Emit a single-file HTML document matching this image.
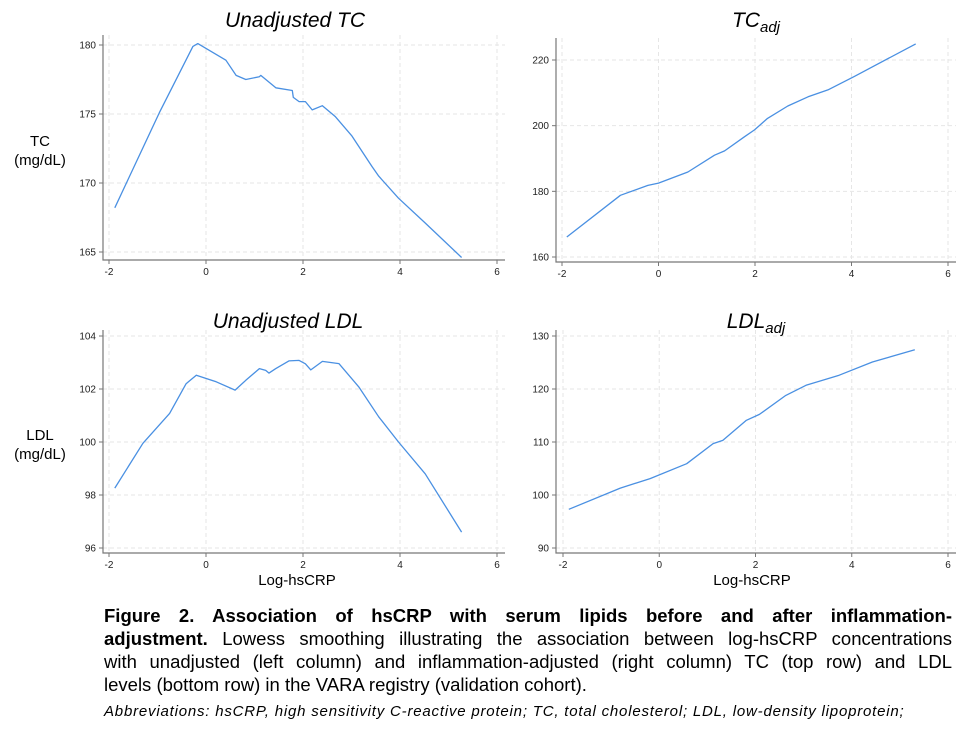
<!DOCTYPE html>
<html><head><meta charset="utf-8"><style>
body{margin:0;background:#fff;width:965px;height:732px;overflow:hidden;font-family:"Liberation Sans",Arial,sans-serif}
svg{position:absolute;left:0;top:0}
.cap{position:absolute;left:104px;top:604px;width:848px;font-size:18.5px;line-height:23px;color:#000}
.cap div{text-align:justify;text-align-last:justify;white-space:nowrap}
.cap div.last{text-align-last:left}
.abbr{position:absolute;left:104px;top:703px;font-size:15px;letter-spacing:0.8px;font-style:italic;color:#000;white-space:nowrap}
</style></head><body>
<svg id="chart" width="965" height="600" xmlns="http://www.w3.org/2000/svg" font-family="Liberation Sans, Arial, sans-serif"></svg>
<div class="cap">
<div><b>Figure 2. Association of hsCRP with serum lipids before and after inflammation-</b></div>
<div><b>adjustment.</b> Lowess smoothing illustrating the association between log-hsCRP concentrations</div>
<div>with unadjusted (left column) and inflammation-adjusted (right column) TC (top row) and LDL</div>
<div class="last">levels (bottom row) in the VARA registry (validation cohort).</div>
</div>
<div class="abbr">Abbreviations: hsCRP, high sensitivity C-reactive protein; TC, total cholesterol; LDL, low-density lipoprotein;</div>
<script>
const xTicks=[-2,0,2,4,6];
const tcX=[-1.88,-0.96,-0.27,-0.17,0.41,0.62,0.82,1.1,1.13,1.44,1.78,1.8,1.92,2.05,2.19,2.4,2.67,3.01,3.42,3.56,3.97,4.52,5.27];
const tcY=[168.2,175.1,179.9,180.1,178.9,177.8,177.5,177.7,177.8,176.9,176.7,176.2,175.9,175.9,175.3,175.6,174.8,173.4,171.2,170.5,168.9,167.1,164.6];
const tcTicks=[165,170,175,180];
const tcAdjX=[-1.9,-0.79,-0.22,0,0.61,1.16,1.37,1.78,1.99,2.26,2.68,3.1,3.51,4.06,5.33];
const tcAdjY=[166.1,178.8,181.8,182.5,185.9,191,192.3,196.6,198.7,202.2,206,208.8,210.9,215,224.9];
const tcAdjTicks=[160,180,200,220];
const ldlX=[-1.88,-1.3,-0.75,-0.41,-0.2,0.21,0.6,0.82,1.1,1.23,1.3,1.44,1.71,1.92,2.05,2.16,2.4,2.74,3.15,3.56,3.97,4.52,5.27];
const ldlY=[98.26,99.95,101.08,102.2,102.52,102.27,101.96,102.33,102.77,102.7,102.6,102.77,103.06,103.08,102.95,102.72,103.04,102.96,102.08,100.95,100.0,98.8,96.6];
const ldlTicks=[96,98,100,102,104];
const ldlAdjX=[-1.88,-0.81,-0.19,0.57,1.12,1.32,1.81,2.08,2.63,3.05,3.74,4.43,5.31];
const ldlAdjY=[97.3,101.3,103.1,105.9,109.7,110.3,114.1,115.2,118.8,120.7,122.6,125.1,127.4];
const ldlAdjTicks=[90,100,110,120,130];

const svg=document.getElementById('chart');
const NS='http://www.w3.org/2000/svg';
function mk(tag,attrs,parent){const e=document.createElementNS(NS,tag);for(const k in attrs)e.setAttribute(k,attrs[k]);(parent||svg).appendChild(e);return e;}

function panel(p){
  const g=mk('g',{});
  
  
  const sx=v=>p.x0+(v-(-2))*(p.x6-p.x0)/8;
  const sy=v=>p.yA+(v-p.vA)*(p.yB-p.yA)/(p.vB-p.vA);
  const right=p.x6+8, top=p.top;
  xTicks.forEach(t=>{
    const l=mk('line',{x1:sx(t),x2:sx(t),y1:top,y2:p.axisY,stroke:'#e6e6e6','stroke-dasharray':'4,3','stroke-width':1},g);
    
    
    mk('line',{x1:sx(t),x2:sx(t),y1:p.axisY,y2:p.axisY+4,stroke:'#777'},g);
    const tx=mk('text',{x:sx(t),y:p.axisY+15,'font-size':10,'text-anchor':'middle',fill:'#222'},g);
    tx.textContent=t;
    
    
  });
  p.ticks.forEach(t=>{
    const l=mk('line',{x1:p.axisX,x2:right,y1:sy(t),y2:sy(t),stroke:'#e6e6e6','stroke-dasharray':'4,3','stroke-width':1},g);
    
    
    mk('line',{x1:p.axisX-4,x2:p.axisX,y1:sy(t),y2:sy(t),stroke:'#777'},g);
    const tx=mk('text',{x:p.axisX-7,y:sy(t)+3.5,'font-size':10,'text-anchor':'end',fill:'#222'},g);
    tx.textContent=t;
    
    
  });
  const ax=mk('path',{d:`M${p.axisX},${top} V${p.axisY} H${right}`,fill:'none',stroke:'#777','stroke-width':1.2},g);
  
  
  let d='';
  p.xs.forEach((x,i)=>{d+=(i?'L':'M')+sx(x).toFixed(1)+','+sy(p.ys[i]).toFixed(1);});
  const ln=mk('path',{d:d,fill:'none',stroke:'#4a90e2','stroke-width':1.3,'stroke-linejoin':'round'},g);
  
  
  const tt=mk('text',{x:p.tx,y:p.ty,'font-size':21,'font-style':'italic','text-anchor':'middle',fill:'#000'},g);
  
  
  tt.innerHTML=p.title;
}
panel({name:'panel-unadjusted-tc',xs:tcX,ys:tcY,ticks:tcTicks,x0:109,x6:497,yA:45,vA:180,yB:252,vB:165,axisX:103,axisY:260,top:35,tx:295,ty:27,title:'Unadjusted TC'});
panel({name:'panel-tc-adj',xs:tcAdjX,ys:tcAdjY,ticks:tcAdjTicks,x0:562,x6:948,yA:60,vA:220,yB:257,vB:160,axisX:556,axisY:262,top:38,tx:756,ty:27,title:'TC<tspan font-size="15" dy="5">adj</tspan>'});
panel({name:'panel-unadjusted-ldl',xs:ldlX,ys:ldlY,ticks:ldlTicks,x0:109,x6:497,yA:336,vA:104,yB:548,vB:96,axisX:103,axisY:553,top:330,tx:288,ty:328,title:'Unadjusted LDL'});
panel({name:'panel-ldl-adj',xs:ldlAdjX,ys:ldlAdjY,ticks:ldlAdjTicks,x0:563,x6:948,yA:336,vA:130,yB:548,vB:90,axisX:556,axisY:553,top:330,tx:756,ty:328,title:'LDL<tspan font-size="15" dy="5">adj</tspan>'});
function label(txt,x,y,name,size){const t=mk('text',{x:x,y:y,'font-size':size||15,'text-anchor':'middle',fill:'#000'});t.textContent=txt;}
label('TC',40,146,'y-axis-title-tc');
label('(mg/dL)',40,165,'y-axis-title-tc-units');
label('LDL',40,440,'y-axis-title-ldl');
label('(mg/dL)',40,459,'y-axis-title-ldl-units');
label('Log-hsCRP',297,585,'x-axis-title-left');
label('Log-hsCRP',752,585,'x-axis-title-right');
</script>
</body></html>
